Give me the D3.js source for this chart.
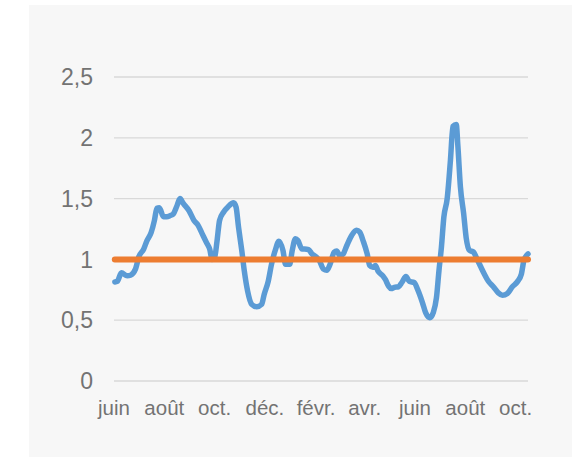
<!DOCTYPE html>
<html>
<head>
<meta charset="utf-8">
<script src="https://cdn.jsdelivr.net/npm/d3@7"></script>
<style>
  body { margin: 0; background: #fff; }
  svg { display: block; }
</style>
</head>
<body>
<div id="chart"></div>
<script>
// days since 1 June 2020, and the ratio
const days = [1, 4, 9, 16, 20, 26, 30, 36, 40, 45, 49, 52, 55, 60, 64, 68, 72, 76, 80, 84,
  91, 97, 102, 107, 112, 116, 119, 122, 125, 128, 133, 138, 145, 148, 151, 155, 158, 162, 167, 173,
  179, 182, 187, 191, 196, 200, 205, 208, 213, 216, 220, 223, 228, 231, 236, 240, 246, 249, 254, 258,
  262, 267, 270, 274, 278, 282, 288, 294, 298, 302, 307, 310, 314, 317, 320, 326, 329, 333, 336, 340,
  345, 349, 354, 358, 364, 368, 374, 378, 383, 387, 391, 394, 397, 400, 404, 408, 411, 415, 417, 420,
  424, 427, 431, 436, 439, 445, 449, 454, 460, 466, 471, 477, 483, 489, 494, 497, 502];
const values = [0.815, 0.82, 0.89, 0.865, 0.87, 0.92, 1.02, 1.085, 1.155, 1.22, 1.32, 1.42, 1.425, 1.35, 1.35, 1.36, 1.375, 1.435, 1.5, 1.46,
  1.40, 1.32, 1.28, 1.21, 1.14, 1.085, 1.0, 1.015, 1.155, 1.32, 1.39, 1.43, 1.465, 1.43, 1.265, 1.07, 0.905, 0.74, 0.63, 0.61,
  0.63, 0.71, 0.82, 0.96, 1.085, 1.15, 1.07, 0.96, 0.96, 1.07, 1.17, 1.155, 1.085, 1.085, 1.08, 1.045, 1.015, 0.99, 0.92, 0.91,
  0.96, 1.06, 1.07, 1.03, 1.045, 1.11, 1.195, 1.24, 1.225, 1.155, 1.045, 0.95, 0.935, 0.95, 0.905, 0.865, 0.835, 0.78, 0.76, 0.77,
  0.775, 0.81, 0.86, 0.82, 0.81, 0.755, 0.645, 0.56, 0.52, 0.56, 0.685, 0.905, 1.1, 1.35, 1.5, 1.82, 2.095, 2.11, 1.93, 1.6,
  1.375, 1.18, 1.075, 1.06, 1.02, 0.935, 0.88, 0.82, 0.775, 0.725, 0.705, 0.72, 0.775, 0.815, 0.88, 0.99, 1.045];
const reference = 1;
const yTicks = [0, 0.5, 1, 1.5, 2, 2.5];
const monthLabels = ["juin", "août", "oct.", "déc.", "févr.", "avr.", "juin", "août", "oct."];

const start = new Date(2020, 5, 1);
const end = new Date(2021, 9, 16);
const toDate = d => new Date(2020, 5, 1 + d);
const data = days.map((d, i) => ({ date: toDate(d), value: values[i] }));

const W = 575, H = 457;
const margin = { top: 77, right: 47, bottom: 76, left: 114 };
const width = W - margin.left - margin.right,
  height = H - margin.top - margin.bottom;

const svg = d3.select("#chart").append("svg")
  .attr("width", W)
  .attr("height", H);

// chart area background
svg.append("rect")
  .attr("x", 29).attr("y", 5)
  .attr("width", 543).attr("height", 452)
  .attr("fill", "#f7f7f7");

const g = svg.append("g")
  .attr("transform", "translate(" + margin.left + "," + margin.top + ")");

const x = d3.scaleTime().domain([start, end]).range([0, width]);
const y = d3.scaleLinear().domain([0, 2.5]).range([height, 0]);

// gridlines
g.selectAll(".grid")
  .data(yTicks)
  .enter().append("line")
  .attr("x1", 0).attr("x2", width)
  .attr("y1", d => y(d)).attr("y2", d => y(d))
  .attr("stroke", "#d9d9d9")
  .attr("stroke-width", 1.3);

// y labels
g.selectAll(".ylab")
  .data(yTicks)
  .enter().append("text")
  .attr("x", -21)
  .attr("y", d => y(d))
  .attr("dy", "0.36em")
  .attr("text-anchor", "end")
  .attr("fill", "#737373")
  .style("font", "23px 'Liberation Sans', Arial, sans-serif")
  .text(d => String(d).replace(".", ","));

// month labels every two months, starting in June
const monthTicks = d3.timeMonth.range(start, end, 2);
g.selectAll(".xlab")
  .data(monthTicks)
  .enter().append("text")
  .attr("x", d => x(d))
  .attr("y", height + 34)
  .attr("text-anchor", "middle")
  .attr("fill", "#737373")
  .style("font", "20.5px 'Liberation Sans', Arial, sans-serif")
  .text((d, i) => monthLabels[i]);

const line = d3.line()
  .x(d => x(d.date))
  .y(d => y(d.value))
  .curve(d3.curveMonotoneX);

g.append("path")
  .datum(data)
  .attr("fill", "none")
  .attr("stroke", "#5b9bd5")
  .attr("stroke-width", 5.5)
  .attr("stroke-linejoin", "round")
  .attr("stroke-linecap", "round")
  .attr("d", line);

// reference line at 1
g.append("path")
  .datum(data.map(d => ({ date: d.date, value: reference })))
  .attr("fill", "none")
  .attr("stroke", "#ed7d31")
  .attr("stroke-width", 6)
  .attr("stroke-linecap", "round")
  .attr("d", line);
</script>
</body>
</html>
